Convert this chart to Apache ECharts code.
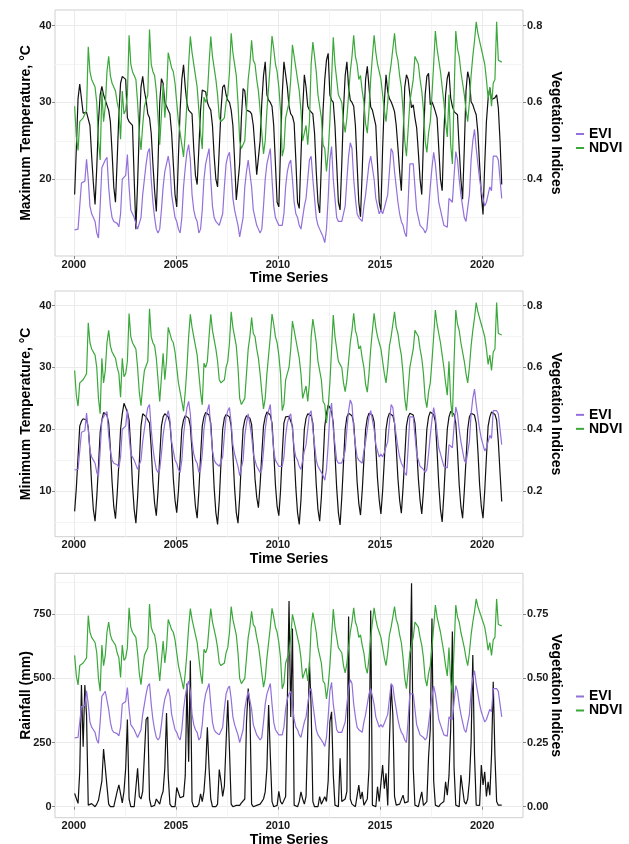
<!DOCTYPE html>
<html><head><meta charset="utf-8">
<script src="https://cdn.jsdelivr.net/npm/echarts@6/dist/echarts.min.js"></script>
<style>html,body{margin:0;padding:0;background:#fff}#c{width:629px;height:844px}</style>
</head><body><div id="c"></div>
<script>
// ---- data (monthly, Jan..Dec per row) ----
const years = [2000,2001,2002,2003,2004,2005,2006,2007,2008,2009,2010,2011,2012,2013,2014,2015,2016,2017,2018,2019,2020];

const ndvi = [
0.59,0.51,0.475,0.55,0.55,0.56,0.57,0.58,0.745,0.68,0.66,0.655,
0.64,0.60,0.50,0.45,0.63,0.55,0.59,0.68,0.72,0.67,0.65,0.64,
0.63,0.60,0.58,0.504,0.63,0.57,0.58,0.62,0.775,0.70,0.68,0.67,
0.66,0.60,0.52,0.476,0.54,0.59,0.585,0.62,0.79,0.70,0.68,0.67,
0.63,0.56,0.49,0.49,0.646,0.56,0.62,0.73,0.73,0.69,0.68,0.65,
0.60,0.55,0.52,0.49,0.458,0.52,0.60,0.70,0.772,0.73,0.70,0.67,
0.64,0.58,0.52,0.479,0.614,0.60,0.62,0.70,0.772,0.72,0.69,0.66,
0.62,0.56,0.55,0.546,0.56,0.60,0.62,0.68,0.78,0.73,0.70,0.67,
0.60,0.50,0.48,0.48,0.50,0.58,0.66,0.70,0.762,0.71,0.70,0.66,
0.63,0.58,0.52,0.466,0.50,0.58,0.64,0.70,0.773,0.74,0.70,0.68,
0.64,0.58,0.46,0.48,0.56,0.58,0.60,0.66,0.75,0.72,0.69,0.66,
0.63,0.58,0.50,0.495,0.54,0.49,0.55,0.70,0.757,0.72,0.68,0.62,
0.62,0.56,0.49,0.48,0.42,0.47,0.55,0.66,0.77,0.70,0.66,0.62,
0.61,0.60,0.55,0.522,0.56,0.62,0.68,0.72,0.775,0.72,0.70,0.66,
0.67,0.63,0.60,0.545,0.52,0.58,0.66,0.72,0.775,0.73,0.70,0.68,
0.66,0.62,0.58,0.55,0.60,0.67,0.70,0.74,0.78,0.73,0.71,0.67,
0.64,0.58,0.50,0.46,0.53,0.60,0.60,0.66,0.72,0.71,0.70,0.66,
0.63,0.58,0.50,0.47,0.52,0.55,0.62,0.70,0.786,0.74,0.71,0.68,
0.64,0.60,0.55,0.51,0.62,0.49,0.44,0.62,0.786,0.74,0.72,0.68,
0.65,0.62,0.58,0.55,0.60,0.67,0.72,0.76,0.81,0.78,0.76,0.74,
0.72,0.70,0.66,0.61,0.64,0.59,0.65,0.66,0.81,0.71,0.705,0.705
];

const evi = [
0.268,0.265,0.27,0.33,0.39,0.39,0.395,0.452,0.40,0.33,0.31,0.30,
0.29,0.26,0.247,0.33,0.43,0.44,0.45,0.457,0.38,0.33,0.30,0.29,
0.29,0.285,0.276,0.31,0.40,0.40,0.41,0.464,0.38,0.32,0.31,0.30,
0.30,0.27,0.27,0.30,0.36,0.40,0.44,0.47,0.48,0.40,0.34,0.30,
0.27,0.26,0.27,0.32,0.38,0.42,0.44,0.46,0.43,0.36,0.33,0.30,
0.29,0.27,0.26,0.30,0.38,0.43,0.47,0.49,0.45,0.36,0.32,0.30,
0.29,0.26,0.27,0.32,0.40,0.44,0.46,0.48,0.40,0.33,0.30,0.29,
0.29,0.28,0.28,0.31,0.38,0.44,0.46,0.47,0.42,0.35,0.32,0.30,
0.28,0.25,0.25,0.30,0.38,0.42,0.45,0.45,0.38,0.32,0.30,0.28,
0.27,0.26,0.27,0.33,0.40,0.44,0.46,0.48,0.40,0.33,0.30,0.29,
0.28,0.28,0.28,0.31,0.38,0.42,0.44,0.45,0.40,0.34,0.31,0.30,
0.28,0.27,0.30,0.33,0.35,0.355,0.45,0.46,0.40,0.35,0.30,0.28,
0.27,0.26,0.25,0.235,0.27,0.35,0.45,0.485,0.40,0.35,0.30,0.29,
0.29,0.29,0.29,0.33,0.40,0.46,0.495,0.48,0.40,0.35,0.31,0.30,
0.30,0.29,0.33,0.36,0.40,0.44,0.46,0.465,0.40,0.35,0.33,0.31,
0.32,0.31,0.325,0.33,0.36,0.42,0.48,0.47,0.42,0.38,0.34,0.31,
0.29,0.28,0.26,0.25,0.34,0.44,0.445,0.44,0.38,0.32,0.30,0.28,
0.28,0.27,0.26,0.27,0.32,0.38,0.43,0.47,0.44,0.39,0.34,0.32,
0.30,0.28,0.28,0.275,0.35,0.35,0.34,0.41,0.472,0.45,0.40,0.36,
0.33,0.30,0.29,0.285,0.36,0.45,0.50,0.53,0.48,0.44,0.40,0.37,
0.35,0.33,0.34,0.34,0.38,0.37,0.46,0.46,0.46,0.45,0.40,0.35
];

const tmax = [
18.0,24.0,30.5,32.4,32.5,28.6,28.6,28.7,28.6,27.0,23.0,19.5,
16.7,21.5,27.5,31.0,32.1,31.0,30.3,30.3,29.0,27.5,23.5,19.0,
17.0,22.5,28.5,32.5,33.4,33.3,33.0,28.0,27.5,27.3,27.0,20.0,
13.5,19.5,26.5,32.0,33.4,31.5,30.3,28.5,28.0,26.0,22.0,18.5,
15.8,22.0,30.0,33.1,32.5,30.0,29.5,29.0,28.5,26.0,22.0,18.0,
16.4,23.0,29.0,33.0,34.9,32.0,29.9,29.0,29.0,28.5,24.0,20.5,
19.3,24.0,29.0,31.6,31.5,31.4,30.0,29.4,29.0,27.0,23.0,20.0,
19.0,24.0,29.0,32.0,32.3,31.0,30.3,30.0,29.0,27.0,22.5,17.3,
17.5,22.0,28.0,31.8,31.5,29.0,29.0,28.8,28.5,27.0,24.0,20.6,
20.6,25.0,30.0,33.5,35.3,31.0,30.3,30.0,29.5,27.0,22.0,17.0,
16.4,24.0,31.0,35.3,35.1,32.0,29.5,28.5,28.2,27.3,22.5,17.0,
16.2,23.0,29.0,33.6,32.0,29.5,29.0,29.0,28.5,26.0,21.0,17.0,
15.6,22.0,29.0,33.0,35.5,36.4,31.0,30.3,30.0,27.0,22.0,17.0,
16.0,22.0,29.0,33.5,35.3,32.0,30.3,30.0,29.5,27.0,22.0,17.0,
15.1,21.0,28.0,33.0,34.7,32.0,29.4,29.0,29.0,27.0,22.0,17.0,
15.9,24.0,30.0,33.6,31.4,30.5,30.1,29.5,28.8,27.0,24.1,21.0,
18.5,25.0,32.0,33.6,33.0,31.0,29.3,29.7,28.0,26.7,23.5,20.0,
18.0,25.0,31.0,33.4,33.8,29.7,30.1,29.5,28.8,28.0,24.0,20.0,
18.5,26.0,31.0,33.2,34.0,30.6,29.5,28.8,28.6,28.4,24.0,20.0,
17.4,24.0,31.5,34.0,33.0,30.1,29.7,29.0,28.4,26.0,21.9,18.0,
15.4,21.9,27.5,30.5,31.9,30.4,30.6,30.6,31.0,29.3,25.0,19.3
];

const tmin = [
6.7,10.5,15.5,20.5,21.3,21.7,21.6,21.5,20.3,16.5,11.0,7.0,
5.1,9.0,14.0,19.5,21.5,22.7,22.5,22.3,21.0,17.0,11.5,7.5,
5.5,9.5,14.5,20.0,22.5,24.2,23.5,22.8,21.5,17.0,11.0,7.0,
4.8,9.0,14.5,20.5,22.5,22.3,22.0,22.0,21.0,17.0,11.5,8.0,
6.0,10.0,15.5,20.5,22.0,22.5,22.3,22.0,21.0,17.5,12.0,8.5,
6.5,10.0,15.0,20.0,21.5,22.2,22.0,21.8,20.5,16.5,11.0,7.5,
5.6,10.0,15.5,20.5,22.0,22.7,22.5,22.3,21.0,16.5,10.5,6.5,
4.6,8.5,14.5,20.0,21.8,22.4,22.3,22.0,20.5,16.0,10.5,6.5,
4.8,9.0,15.0,20.0,21.5,22.2,22.0,21.8,20.8,17.0,12.0,9.0,
7.3,11.0,16.0,20.5,22.0,22.8,22.6,22.3,21.0,16.5,11.0,7.5,
6.0,10.0,16.0,21.0,22.0,22.2,22.1,21.9,20.5,16.0,10.5,6.5,
4.6,8.5,14.5,20.0,21.8,22.5,22.4,22.2,21.0,16.5,11.0,7.0,
5.1,9.0,14.5,20.5,22.5,23.9,23.5,22.8,21.0,16.0,10.5,6.5,
4.5,9.0,14.5,20.0,22.0,22.6,22.5,22.2,21.0,17.0,11.5,8.0,
6.1,10.0,15.0,20.0,21.8,22.6,22.5,22.3,21.2,17.0,12.0,8.5,
6.3,10.0,15.0,20.0,21.8,22.6,22.5,22.2,21.0,17.0,12.0,8.5,
6.4,10.5,15.5,20.5,22.0,22.6,22.5,22.3,21.0,17.0,12.0,8.5,
6.3,10.0,15.0,20.0,22.0,22.8,22.6,22.4,21.2,16.5,11.0,7.0,
5.0,9.5,15.0,20.0,22.0,22.9,22.7,22.4,21.0,16.5,11.0,7.5,
5.6,10.0,15.0,20.0,22.0,22.6,22.5,22.3,21.0,16.5,11.0,7.5,
5.6,10.0,15.5,20.5,22.0,22.8,22.6,22.4,21.5,18.0,13.0,8.3
];

const rain = [
52,32,13,136,474,234,474,357,6,3,12,8,
0,10,25,30,100,225,220,80,10,0,0,0,
0,60,85,50,15,60,150,340,30,0,0,0,
5,150,40,30,60,200,340,350,30,0,0,5,
30,35,10,40,60,150,365,120,10,0,0,0,
75,80,35,30,40,120,480,175,570,20,0,0,
0,10,50,20,60,150,310,150,30,0,0,0,
10,145,100,40,80,250,415,220,10,0,0,5,
10,5,15,20,30,331,461,383,10,0,0,5,
5,10,20,30,58,150,396,200,20,0,0,5,
60,20,10,15,40,409,802,350,695,6,0,0,
20,58,30,10,40,292,565,383,20,0,0,0,
39,10,15,39,20,100,331,370,123,6,0,0,
189,20,13,30,60,741,30,10,5,0,0,84,
30,58,6,10,30,150,765,6,0,0,78,20,
20,162,70,130,5,253,474,357,40,6,0,10,
10,45,15,10,20,458,871,150,6,0,0,5,
58,5,10,20,195,300,734,100,6,0,0,10,
15,20,97,45,120,300,683,150,6,0,0,123,
70,20,10,30,100,250,591,200,6,0,5,162,
85,136,40,97,45,200,487,200,20,6,5,6
];

// ---- tick labels ----
const xTicks = [2000, 2005, 2010, 2015, 2020];
const xMinor = [2002.5, 2007.5, 2012.5, 2017.5];
const tmaxTicks = [20, 30, 40], tmaxMinor = [15, 25, 35];
const vi1Ticks = [0.4, 0.6, 0.8];
const tminTicks = [10, 20, 30, 40], tminMinor = [5, 15, 25, 35];
const vi2Ticks = [0.2, 0.4, 0.6, 0.8];
const rainTicks = [0, 250, 500, 750], rainMinor = [125, 375, 625, 875];
const vi3Ticks = [0, 0.25, 0.5, 0.75];

// ---- build ----
const time = [];
years.forEach(y => { for (let m = 0; m < 12; m++) time.push(y + (m + 0.5) / 12); });
const pts = vals => vals.map((v, i) => [time[i], v]);

const FONT = "'Liberation Sans', Arial, sans-serif";
const C_EVI = '#9370DB', C_NDVI = '#3ba83b', C_BLK = '#111111';
const MAJ = '#ebebeb', MIN = '#f4f4f4';

const panels = [
  {top: 10, bottom: 256, lmin: 10.0, lmax: 42.04, rmin: 0.2, rmax: 0.8408,
   lt: tmaxTicks, lm: tmaxMinor, rt: vi1Ticks, rdec: 1, title: 'Maximum Temperature, °C', black: tmax, bname: 'Tmax'},
  {top: 291, bottom: 536.7, lmin: 2.6, lmax: 42.38, rmin: 0.052, rmax: 0.8476,
   lt: tminTicks, lm: tminMinor, rt: vi2Ticks, rdec: 1, title: 'Minimum Temperature, °C', black: tmin, bname: 'Tmin'},
  {top: 573.3, bottom: 817.7, lmin: -42.9, lmax: 909.8, rmin: -0.0429, rmax: 0.9098,
   lt: rainTicks, lm: rainMinor, rt: vi3Ticks, rdec: 2, title: 'Rainfall (mm)', black: rain, bname: 'Rainfall'}
];

const grids = [], xAxes = [], yAxes = [], series = [], legends = [];
const lab = {fontFamily: FONT, fontWeight: 'bold', fontSize: 11, color: '#1a1a1a'};
const ttl = {fontFamily: FONT, fontWeight: 'bold', fontSize: 14, color: '#000'};

panels.forEach((p, i) => {
  grids.push({left: 55, right: 106, top: p.top, height: p.bottom - p.top,
    outerBoundsMode: 'none', containLabel: false,
    show: true, borderColor: '#cfcfcf', borderWidth: 1, backgroundColor: 'transparent'});
  xAxes.push({type: 'value', gridIndex: i, min: 1999.08, max: 2022.0,
    name: 'Time Series', nameLocation: 'middle', nameGap: 15, nameMoveOverlap: false, nameTextStyle: ttl,
    axisLine: {show: false},
    axisTick: {show: true, length: 3, lineStyle: {color: '#888'}, customValues: xTicks},
    axisLabel: Object.assign({margin: 3, customValues: xTicks, formatter: v => String(v)}, lab),
    splitLine: {show: true, lineStyle: {color: MAJ, width: 1}}});
});
panels.forEach((p, i) => {
  xAxes.push({type: 'value', gridIndex: i, min: 1999.08, max: 2022.0,
    axisLine: {show: false}, axisLabel: {show: false},
    axisTick: {show: false, customValues: xMinor},
    splitLine: {show: true, lineStyle: {color: MIN, width: 1}}});
});
panels.forEach((p, i) => {
  yAxes.push({type: 'value', gridIndex: i, position: 'left', min: p.lmin, max: p.lmax,
    name: p.title, nameLocation: 'middle', nameGap: 22, nameRotate: 90, nameMoveOverlap: false, nameTextStyle: ttl,
    axisLine: {show: false},
    axisTick: {show: true, length: 3, lineStyle: {color: '#888'}, customValues: p.lt},
    axisLabel: Object.assign({margin: 3.5, customValues: p.lt, formatter: v => String(v)}, lab),
    splitLine: {show: true, lineStyle: {color: MAJ, width: 1}}});
  yAxes.push({type: 'value', gridIndex: i, position: 'right', min: p.rmin, max: p.rmax,
    name: 'Vegetation Indices', nameLocation: 'middle', nameGap: 26, nameRotate: -90, nameMoveOverlap: false, nameTextStyle: ttl,
    axisLine: {show: false},
    axisTick: {show: true, length: 3, lineStyle: {color: '#888'}, customValues: p.rt},
    axisLabel: Object.assign({margin: 4, customValues: p.rt, formatter: v => v.toFixed(p.rdec)}, lab),
    splitLine: {show: false}});
  yAxes.push({type: 'value', gridIndex: i, position: 'left', min: p.lmin, max: p.lmax,
    axisLine: {show: false}, axisLabel: {show: false},
    axisTick: {show: false, customValues: p.lm},
    splitLine: {show: true, lineStyle: {color: MIN, width: 1}}});

  const common = {type: 'line', xAxisIndex: i, showSymbol: false, symbol: 'none', silent: true, animation: false};
  series.push(Object.assign({}, common, {name: p.bname, yAxisIndex: 3 * i, data: pts(p.black),
    lineStyle: {color: C_BLK, width: 1.2}, itemStyle: {color: C_BLK}, z: 3}));
  series.push(Object.assign({}, common, {name: 'EVI', yAxisIndex: 3 * i + 1, data: pts(evi),
    lineStyle: {color: C_EVI, width: 1.2}, itemStyle: {color: C_EVI}, z: 4}));
  series.push(Object.assign({}, common, {name: 'NDVI', yAxisIndex: 3 * i + 1, data: pts(ndvi),
    lineStyle: {color: C_NDVI, width: 1.2}, itemStyle: {color: C_NDVI}, z: 5}));

  const mid = (p.top + p.bottom) / 2;
  legends.push({orient: 'vertical', left: 571, top: mid - 11, itemGap: 0,
    itemWidth: 8, itemHeight: 2, icon: 'rect', selectedMode: false,
    textStyle: {fontFamily: FONT, fontWeight: 'bold', fontSize: 14, color: '#000', lineHeight: 14},
    data: [{name: 'EVI', itemStyle: {color: C_EVI}}, {name: 'NDVI', itemStyle: {color: C_NDVI}}]});
});

const chart = echarts.init(document.getElementById('c'), null, {renderer: 'canvas'});
chart.setOption({
  animation: false,
  backgroundColor: '#fff',
  grid: grids, xAxis: xAxes, yAxis: yAxes, series: series, legend: legends
});
</script></body></html>
